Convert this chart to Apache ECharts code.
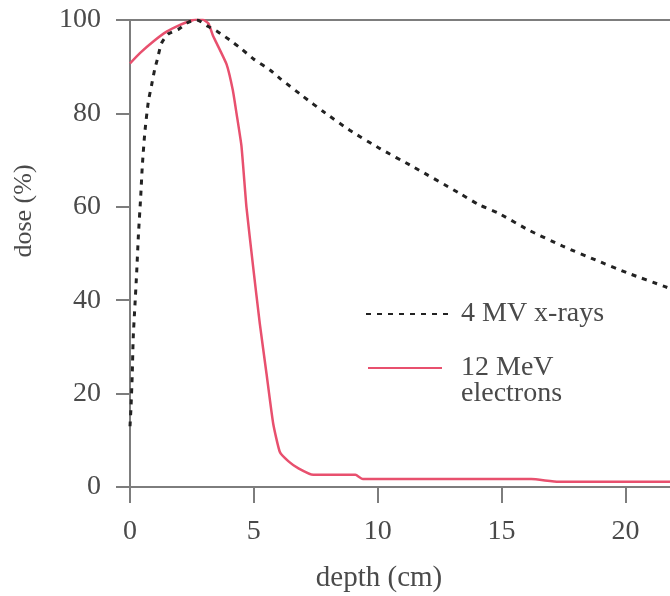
<!DOCTYPE html>
<html>
<head>
<meta charset="utf-8">
<script src="https://cdn.jsdelivr.net/npm/echarts@6/dist/echarts.min.js"></script>
<style>
  html, body { margin: 0; padding: 0; background: #fff; }
  #chart { width: 670px; height: 596px; }
</style>
</head>
<body>
<div id="chart"></div>
<script>
// depth-dose curves
const xrayDepth = [0, 0.04, 0.09, 0.13, 0.2, 0.27, 0.34, 0.43, 0.5, 0.6, 0.74, 0.87, 1.0, 1.1, 1.27, 1.54, 1.95, 2.35, 2.7, 3.16, 3.54, 4.03, 4.5, 5.0, 5.65, 6.05, 7.0, 7.8, 8.87, 10.08, 11.42, 13.3, 14.1, 14.85, 16.1, 17.5, 18.8, 20.1, 21.6, 21.8];
const xrayDose = [13, 17, 24, 32, 39, 46, 54, 62, 69, 76, 82.5, 86, 89.5, 91.5, 95, 97, 98, 99.5, 100, 98.6, 97.5, 95.7, 93.8, 91.6, 89.3, 87.5, 83.6, 80.4, 76.4, 72.5, 68.6, 62.9, 60.4, 58.7, 55, 51.5, 48.6, 45.8, 42.9, 42.5];

const electronDepth = [0, 0.4, 0.94, 1.48, 2.0, 2.55, 2.82, 3.16, 3.36, 3.5, 3.9, 4.15, 4.3, 4.5, 4.7, 4.97, 5.24, 5.51, 5.78, 6.05, 6.4, 6.8, 7.4, 9.1, 9.4, 16.2, 17.3, 21.8];
const electronDose = [90.7, 92.9, 95.4, 97.5, 98.9, 100, 100.4, 99.3, 96.5, 95, 90.5, 85, 80, 73, 60, 47.2, 35, 24.3, 13.6, 7.5, 5.5, 4, 2.6, 2.6, 1.7, 1.7, 1.1, 1.1];

const xTicks = [0, 5, 10, 15, 20];
const yTicks = [0, 20, 40, 60, 80, 100];

const seriesNames = ['4 MV x-rays', '12 MeV electrons'];

const FONT = 'Liberation Serif';
const TEXT = '#4a4a4a';
const AXIS = '#7d7d7d';

const pairs = (xs, ys) => xs.map((x, i) => [x, ys[i]]);

const chart = echarts.init(document.getElementById('chart'), null, { renderer: 'canvas' });

const option = {
  animation: false,
  grid: { left: 130, right: 0, top: 20, bottom: 109, containLabel: false },
  xAxis: [
    {
      type: 'value',
      min: 0,
      max: 21.8,
      interval: 5,
      splitLine: { show: false },
      axisLine: { lineStyle: { color: AXIS, width: 2 } },
      axisTick: { customValues: xTicks, length: 16, lineStyle: { color: AXIS, width: 2 } },
      axisLabel: {
        customValues: xTicks,
        margin: 31,
        fontFamily: FONT,
        fontSize: 28,
        color: TEXT,
      },
    },
    {
      // the frame line along dose = 100
      type: 'value',
      position: 'top',
      min: 0,
      max: 21.8,
      axisLine: { show: true, lineStyle: { color: AXIS, width: 2 } },
      axisTick: { show: false },
      axisLabel: { show: false },
      splitLine: { show: false },
    },
  ],
  yAxis: {
    type: 'value',
    min: 0,
    max: 100,
    interval: 20,
    splitLine: { show: false },
    axisLine: { show: true, lineStyle: { color: AXIS, width: 2 } },
    axisTick: { show: true, length: 14, lineStyle: { color: AXIS, width: 2 } },
    axisLabel: {
      margin: 29,
      fontFamily: FONT,
      fontSize: 28,
      color: TEXT,
      formatter: (v) => (yTicks.includes(v) ? String(v) : ''),
    },
  },
  legend: [
    {
      data: [seriesNames[0]],
      left: 365,
      top: 300,
      padding: 0,
      itemWidth: 82,
      itemHeight: 14,
      selectedMode: false,
      itemStyle: { opacity: 0 },
      textStyle: { fontFamily: FONT, fontSize: 28, lineHeight: 26, color: TEXT, padding: [0, 0, 0, 8] },
    },
    {
      data: [seriesNames[1]],
      left: 367,
      top: 328,
      padding: 0,
      itemWidth: 74,
      itemHeight: 14,
      selectedMode: false,
      itemStyle: { opacity: 0 },
      // blank first line keeps the icon level with "12 MeV"
      formatter: () => '\n12 MeV\nelectrons',
      textStyle: { fontFamily: FONT, fontSize: 28, lineHeight: 26, color: TEXT, padding: [0, 0, 0, 14] },
    },
  ],
  graphic: [
    {
      type: 'text',
      x: 24,
      y: 211,
      rotation: Math.PI / 2,
      style: {
        text: 'dose (%)',
        fontFamily: FONT,
        fontSize: 26,
        fill: TEXT,
        textAlign: 'center',
        textVerticalAlign: 'middle',
      },
    },
    {
      type: 'text',
      x: 379,
      y: 578,
      style: {
        text: 'depth (cm)',
        fontFamily: FONT,
        fontSize: 29,
        fill: TEXT,
        textAlign: 'center',
        textVerticalAlign: 'middle',
      },
    },
  ],
  series: [
    {
      name: seriesNames[0],
      type: 'line',
      data: pairs(xrayDepth, xrayDose),
      symbol: 'none',
      smooth: 0.2,
      lineStyle: { color: '#222', width: 3, type: [5, 6] },
      itemStyle: { color: '#222' },
      z: 3,
    },
    {
      name: seriesNames[1],
      type: 'line',
      data: pairs(electronDepth, electronDose),
      symbol: 'none',
      smooth: 0.15,
      lineStyle: { color: '#e8506e', width: 2.5 },
      itemStyle: { color: '#e8506e' },
      z: 2,
    },
  ],
};

chart.setOption(option);
</script>
</body>
</html>
